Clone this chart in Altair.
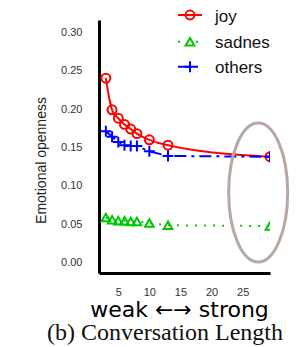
import altair as alt
import pandas as pd

# ---- data ----
lengths = [3, 4, 5, 6, 7, 8, 10, 13, 29.4]
joy = [0.240, 0.199, 0.188, 0.180, 0.174, 0.168, 0.160, 0.153, 0.138]
sadness = [0.059, 0.056, 0.055, 0.055, 0.054, 0.054, 0.052, 0.049, 0.048]
others = [0.171, 0.164, 0.157, 0.153, 0.152, 0.152, 0.145, 0.139, 0.138]

series_names = ["joy", "sadness", "others"]
series_values = [joy, sadness, others]
series_colors = ["#ff0000", "#00c800", "#0000ff"]

x_ticks = [5, 10, 15, 20, 25]
y_ticks = [0.00, 0.05, 0.10, 0.15, 0.20, 0.25, 0.30]

highlight_x = [27.5]
highlight_y = [0.0916]

x_title = "weak \u2190\u2192 strong"
y_title = "Emotional openness"
caption = ["(b) Conversation Length"]

# ---- styles ----
PLUS = "M -1 0 L 1 0 M 0 -1 L 0 1"
ELLIPSE = ("M 0 -1 C 0.2345 -1 0.4245 -0.5523 0.4245 0 "
           "C 0.4245 0.5523 0.2345 1 0 1 "
           "C -0.2345 1 -0.4245 0.5523 -0.4245 0 "
           "C -0.4245 -0.5523 -0.2345 -1 0 -1 Z")
styles = {
    "joy": dict(shape="circle", size=80, dash=[1, 0], interp="monotone"),
    "sadness": dict(shape="triangle-up", size=75, dash=[2, 7], interp="linear"),
    "others": dict(shape=PLUS, size=120, dash=[12, 5, 3, 5], interp="linear"),
}

W, H = 171, 253

xenc = alt.X("length:Q",
             scale=alt.Scale(domain=[1.9, 29.4], nice=False, zero=False),
             axis=alt.Axis(values=x_ticks, tickSize=0, labelPadding=13,
                           labelFontSize=11, labelColor="#333", labelFont="Liberation Sans",
                           domainWidth=3, domainColor="black", grid=False,
                           title=x_title, titleFont="DejaVu Sans", titleFontSize=22,
                           titleFontWeight="normal", titleColor="black",
                           titleX=80, titleY=43, titleBaseline="alphabetic"))
yenc = alt.Y("value:Q",
             scale=alt.Scale(domain=[-0.013, 0.3156], nice=False, zero=False),
             axis=alt.Axis(values=y_ticks, format=".2f", tickSize=0, labelPadding=17,
                           labelFontSize=11, labelColor="#333", labelFont="Liberation Sans",
                           domainWidth=3, domainColor="black", grid=False,
                           title=y_title, titleFont="Liberation Sans", titleFontSize=14,
                           titleFontWeight="normal", titleColor="#222",
                           titleX=-58, titleY=140, titleBaseline="middle",
                           titleAlign="center"))

layers = []
for name, vals, col in zip(series_names, series_values, series_colors):
    st = styles[name]
    df = pd.DataFrame({"length": lengths, "value": vals})
    base = alt.Chart(df)
    line = base.mark_line(color=col, strokeWidth=2, strokeDash=st["dash"],
                          interpolate=st["interp"], clip=True).encode(x=xenc, y=yenc)
    pts = base.mark_point(shape=st["shape"], size=st["size"], color=col,
                          strokeWidth=2, filled=False, opacity=1,
                          clip=True).encode(x=xenc, y=yenc)
    layers += [line, pts]

# highlight ellipse
ell_df = pd.DataFrame({"length": highlight_x, "value": highlight_y})
layers.append(alt.Chart(ell_df).mark_point(shape=ELLIPSE, size=19321, color="#b5a9a2",
                                           strokeWidth=3, filled=False, opacity=1)
              .encode(x=xenc, y=yenc))

# manual legend (top right)
leg_rows_y = [-5, 21.7, 46.7]
for name, col, ly in zip(series_names, series_colors, leg_rows_y):
    st = styles[name]
    ldf = pd.DataFrame({"label": [name]})
    lb = alt.Chart(ldf)
    layers.append(lb.mark_rule(color=col, strokeWidth=2, strokeDash=st["dash"])
                  .encode(x=alt.value(79), x2=alt.value(103), y=alt.value(ly)))
    layers.append(lb.mark_point(shape=st["shape"], size=st["size"], color=col,
                                strokeWidth=2, filled=False, opacity=1)
                  .encode(x=alt.value(91), y=alt.value(ly)))
    layers.append(lb.mark_text(align="left", baseline="alphabetic", fontSize=17,
                               font="Liberation Sans", color="#111",
                               limit=55, ellipsis="\u200b")
                  .encode(x=alt.value(116), y=alt.value(ly + 6.5), text="label:N"))

# caption
cap_df = pd.DataFrame({"cap": caption})
layers.append(alt.Chart(cap_df).mark_text(font="Liberation Serif", fontSize=24,
                                          align="center", baseline="alphabetic",
                                          color="#111")
              .encode(x=alt.value(66), y=alt.value(320), text="cap:N"))

chart = alt.layer(*layers).properties(
    width=W, height=H,
    autosize=alt.AutoSizeParams(type="none"),
    padding={"left": 91, "top": 12, "right": 24, "bottom": 74},
).configure_view(stroke=None)

chart.save("out.html", embed_options={"renderer": "svg", "actions": False})
